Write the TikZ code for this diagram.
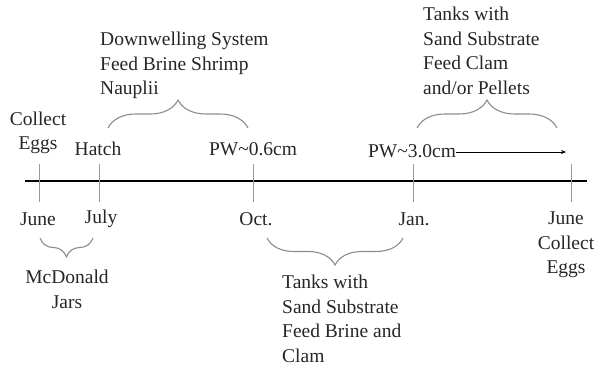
\documentclass[tikz,border=0pt]{standalone}
\usepackage{fontspec}
\setmainfont{Liberation Serif}
\usetikzlibrary{decorations.pathreplacing,arrows.meta}
\begin{document}
\begin{tikzpicture}[x=1pt,y=-1pt,
  lbl/.style={font=\fontsize{19.5}{24.5}\selectfont, text=black!85, inner sep=0pt, align=center},
  lbll/.style={lbl, align=left},
  tick/.style={draw=black!40, line width=1pt},
  brc/.style={draw=black!45, line width=1.1pt, decorate, decoration={brace, amplitude=#1}},
  axis/.style={draw=black, line width=2.4pt}]
\useasboundingbox (0,0) rectangle (600,365);
% axis
\coordinate (a0) at (25,181);
\coordinate (a1) at (587,181);
\draw[axis] (a0) -- (a1);
% ticks
\foreach \n/\x in {t1/39,t2/99,t3/253,t4/413,t5/571}{
  \coordinate (\n a) at (\x,164);
  \coordinate (\n b) at (\x,202);
  \draw[tick] (\n a) -- (\n b);
}
% top labels
\node[lbl] (collect) at (38,133) {Collect\\Eggs};
\node[lbl] (hatch) at (98,149) {Hatch};
\node[lbl] (pw06) at (253,149) {PW\char"007E 0.6cm};
\node[lbl] (pw30) at (412,151) {PW\char"007E 3.0cm};
\coordinate (arrend) at (566,152);
\draw[line width=0.8pt, -{Stealth[length=5pt,width=4pt]}] (pw30.east) ++(0,1) -- (arrend);
% bottom labels
\node[lbl] (june) at (38,219) {June};
\node[lbl] (july) at (101,219) {July};
\node[lbl] (oct) at (256,219) {Oct.};
\node[lbl] (jan) at (414,219) {Jan.};
\node[lbl, anchor=north] (june2) at (566,212) {June\\Collect\\Eggs};
% braces
\coordinate (b1s) at (108,128); \coordinate (b1e) at (248,128);
\draw[brc=28] (b1s) -- (b1e);
\coordinate (b2s) at (417,128); \coordinate (b2e) at (557,128);
\draw[brc=28] (b2s) -- (b2e);
\coordinate (b3s) at (93,238); \coordinate (b3e) at (40,238);
\draw[brc=19] (b3s) -- (b3e);
\coordinate (b4s) at (403,238); \coordinate (b4e) at (267,238);
\draw[brc=27] (b4s) -- (b4e);
% brace texts
\node[lbll, anchor=north west] (down) at (100,32) {Downwelling System\\Feed Brine Shrimp\\Nauplii};
\node[lbll, anchor=north west] (tanks1) at (423,7) {Tanks with\\Sand Substrate\\Feed Clam\\and/or Pellets};
\node[lbl, anchor=north] (mcd) at (67,270) {McDonald\\Jars};
\node[lbll, anchor=north west] (tanks2) at (282,275) {Tanks with\\Sand Substrate\\Feed Brine and\\Clam};
\end{tikzpicture}
\end{document}
